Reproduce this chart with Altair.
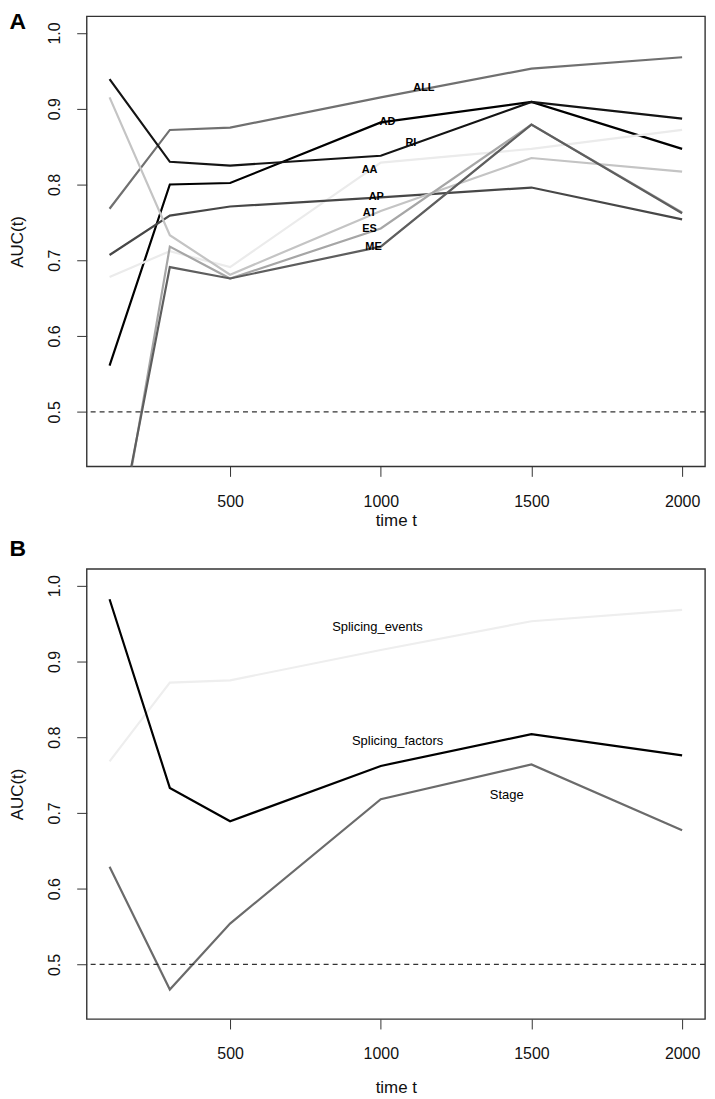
import altair as alt
import pandas as pd

# ---------------- data ----------------
times = [100, 300, 500, 1000, 1500, 2000]

# Panel A
a_names = ["ALL", "AD", "RI", "AA", "AP", "AT", "ES", "ME"]
auc_all = [0.768, 0.872, 0.875, 0.915, 0.953, 0.968]
auc_ad = [0.561, 0.800, 0.802, 0.882, 0.909, 0.847]
auc_ri = [0.939, 0.830, 0.825, 0.838, 0.909, 0.887]
auc_aa = [0.678, 0.712, 0.691, 0.829, 0.847, 0.872]
auc_ap = [0.707, 0.759, 0.771, 0.783, 0.796, 0.754]
auc_at = [0.915, 0.733, 0.681, 0.765, 0.835, 0.817]
auc_es = [0.257, 0.718, 0.676, 0.742, 0.879, 0.763]
auc_me = [0.279, 0.691, 0.676, 0.718, 0.879, 0.762]
a_colors = ["#707070", "#000000", "#141414", "#ebebeb",
            "#474747", "#c4c4c4", "#a6a6a6", "#5e5e5e"]
a_label_t = [1143, 1022, 1100, 963, 985, 963, 963, 976]
a_label_y = [0.928, 0.882, 0.855, 0.819, 0.783, 0.763, 0.741, 0.717]

# Panel B
b_names = ["Splicing_events", "Splicing_factors", "Stage"]
auc_events = [0.768, 0.872, 0.875, 0.915, 0.953, 0.968]
auc_factors = [0.982, 0.733, 0.689, 0.762, 0.804, 0.776]
auc_stage = [0.629, 0.467, 0.554, 0.718, 0.764, 0.677]
b_colors = ["#eeeeee", "#000000", "#6b6b6b"]
b_label_t = [989, 1056, 1418]
b_label_y = [0.946, 0.795, 0.724]

x_ticks = [500, 1000, 1500, 2000]
y_ticks = [0.5, 0.6, 0.7, 0.8, 0.9, 1.0]
ref_line = [0.5]

FONT = "Liberation Sans"


def long_df(names, series):
    rows = []
    for n, vals in zip(names, series):
        for t, v in zip(times, vals):
            rows.append({"series": n, "t": t, "auc": v})
    return pd.DataFrame(rows)


def panel(names, series, colors, lab_t, lab_y, letter, letter_y,
          title_pad, lab_size, lab_weight):
    df = long_df(names, series)
    x = alt.X("t:Q",
              scale=alt.Scale(domain=[24, 2076], nice=False, zero=False),
              axis=alt.Axis(values=x_ticks, title="time t", format="d",
                            titlePadding=title_pad, labelPadding=17,
                            tickSize=10, domain=False, grid=False,
                            labelFontSize=16, titleFontSize=17,
                            titleFontWeight="normal", labelFlush=False,
                            labelOverlap=False, labelColor="#111",
                            titleColor="#111", tickColor="#333",
                            labelFont=FONT, titleFont=FONT))
    y = alt.Y("auc:Q",
              scale=alt.Scale(domain=[0.428, 1.022], nice=False, zero=False),
              axis=alt.Axis(values=y_ticks, format=".1f", title="AUC(t)",
                            labelAngle=270, labelAlign="center",
                            labelBaseline="alphabetic", labelPadding=17,
                            tickSize=10, domain=False, grid=False,
                            labelFontSize=16, titleFontSize=17,
                            titleFontWeight="normal", titlePadding=20,
                            labelOverlap=False, labelColor="#111",
                            titleColor="#111", tickColor="#333",
                            labelFont=FONT, titleFont=FONT))
    lines = alt.Chart(df).mark_line(strokeWidth=2.2, clip=True).encode(
        x=x, y=y,
        color=alt.Color("series:N",
                        scale=alt.Scale(domain=names, range=colors),
                        legend=None),
    )
    rule = alt.Chart(pd.DataFrame({"auc": ref_line})).mark_rule(
        strokeDash=[5, 4], color="#333", strokeWidth=1.2
    ).encode(y=alt.Y("auc:Q"))
    lab_df = pd.DataFrame({"t": lab_t, "auc": lab_y, "label": names})
    labels = alt.Chart(lab_df).mark_text(
        font=FONT, fontSize=lab_size, fontWeight=lab_weight,
        color="#000", align="center", baseline="middle"
    ).encode(x="t:Q", y="auc:Q", text="label:N")
    let = alt.Chart(pd.DataFrame({"p": [letter]})).mark_text(
        font=FONT, fontSize=23, fontWeight="bold", color="#000",
        align="left", baseline="alphabetic"
    ).encode(text="p:N", x=alt.value(-77.5), y=alt.value(letter_y))
    return alt.layer(lines, rule, labels, let).properties(width=621, height=452)


pa = panel(a_names, [auc_all, auc_ad, auc_ri, auc_aa, auc_ap, auc_at, auc_es, auc_me],
           a_colors, a_label_t, a_label_y, "A", 13, 3, 11, "bold")
pb = panel(b_names, [auc_events, auc_factors, auc_stage],
           b_colors, b_label_t, b_label_y, "B", -13, 18, 13, "normal")

chart = alt.vconcat(pa, pb, spacing=8, padding=0).resolve_scale(
    color="independent"
).configure(
    font=FONT, background="white"
).configure_view(
    stroke="#333", strokeWidth=1.4
)

chart.save("out.html", embed_options={"renderer": "svg", "actions": False})
